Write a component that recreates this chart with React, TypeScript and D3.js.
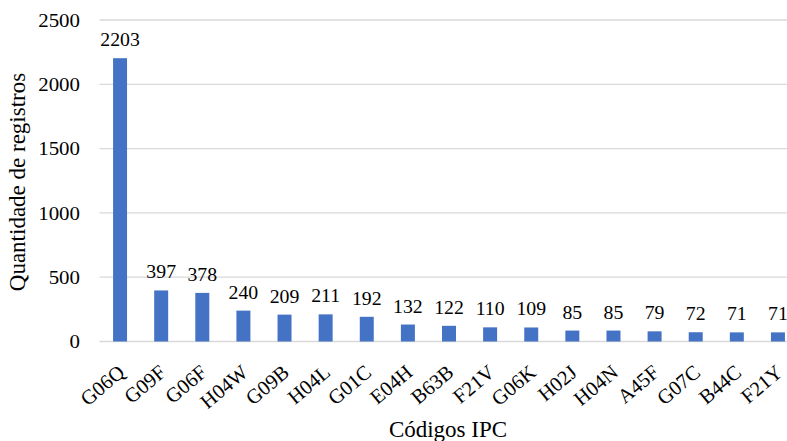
import React from "react";
import * as d3 from "d3";

const codes = ["G06Q", "G09F", "G06F", "H04W", "G09B", "H04L", "G01C", "E04H", "B63B", "F21V", "G06K", "H02J", "H04N", "A45F", "G07C", "B44C", "F21Y"];
const counts = [2203, 397, 378, 240, 209, 211, 192, 132, 122, 110, 109, 85, 85, 79, 72, 71, 71];
const yTicks = [0, 500, 1000, 1500, 2000, 2500];

const W = 787;
const H = 441;
const left = 99.5;
const right = 798.5;
const top = 20;
const bottom = 341.5;
const FONT = "'Liberation Serif', 'Times New Roman', serif";

type LabelProps = {
  x: number;
  y: number;
  rotate?: number;
  sx?: number;
  anchor?: "start" | "middle" | "end";
  size: number;
  dy?: string;
  children: React.ReactNode;
};

function Label({ x, y, rotate = 0, sx = 1, anchor = "middle", size, dy, children }: LabelProps) {
  return (
    <g transform={`translate(${x},${y}) scale(${sx},1) rotate(${rotate})`}>
      <text textAnchor={anchor} fontSize={size} dy={dy} fill="#000">
        {children}
      </text>
    </g>
  );
}

export default function App() {
  const x = d3.scaleBand<string>().domain(codes).range([left, right]).paddingInner(0.66).paddingOuter(0.33);
  const y = d3.scaleLinear().domain([0, 2500]).range([bottom, top]);
  const bw = x.bandwidth();

  return (
    <svg width={W} height={H} style={{ position: "absolute", left: 0, top: 0 }} fontFamily={FONT}>
      <rect width={W} height={H} fill="#fff" />
      {yTicks.map((t) => (
        <g key={t}>
          <line x1={left} x2={right} y1={y(t)} y2={y(t)} stroke="#d9d9d9" strokeWidth={1.3} />
          <Label x={80} y={y(t)} anchor="end" size={19} sx={1.1} dy="0.35em">
            {t}
          </Label>
        </g>
      ))}
      {codes.map((c, i) => {
        const bx = x(c)!;
        const cx = bx + bw / 2;
        return (
          <g key={c}>
            <rect x={bx} y={y(counts[i])} width={bw} height={y(0) - y(counts[i])} fill="#4472C4" />
            <Label x={cx} y={y(counts[i]) - 12} size={18} sx={1.1}>
              {counts[i]}
            </Label>
            <Label x={cx + 6} y={bottom + 33} rotate={-40} anchor="end" size={20.5}>
              {c}
            </Label>
          </g>
        );
      })}
      <Label x={25} y={182} rotate={-90} size={23}>
        Quantidade de registros
      </Label>
      <Label x={448} y={437} size={23}>
        Códigos IPC
      </Label>
    </svg>
  );
}
